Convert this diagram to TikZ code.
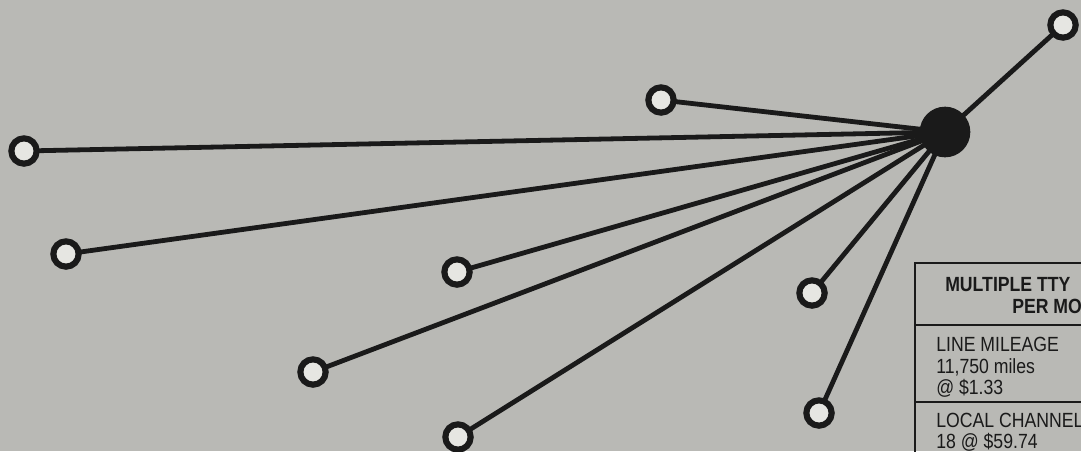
\documentclass[tikz,border=0pt]{standalone}
\usepackage{fontspec}
\setmainfont{Liberation Sans}[FakeStretch=0.86]
\usepackage{xcolor}
\usepackage{tikz}
\usetikzlibrary{backgrounds}
\definecolor{PaperGray}{HTML}{B9B9B5}
\definecolor{DotFill}{HTML}{E6E6E2}
\definecolor{Ink}{HTML}{1A1A1A}

\begin{document}
\begin{tikzpicture}[
    x=0.75pt, y=-0.75pt,
    term/.style={circle, draw=Ink, line width=4.6pt, fill=DotFill,
      minimum size=19pt, inner sep=0pt},
    hubdot/.style={circle, fill=Ink, minimum size=38pt, inner sep=0pt},
    link/.style={draw=Ink, line width=3.6pt},
    cell/.style={anchor=base west, inner sep=0pt, font=\fontsize{15.4}{18}\selectfont, text=Ink}
  ]
    \useasboundingbox (0,0) rectangle (1081,451);
    \clip (0,0) rectangle (1081,451);

    % hub and terminals
    \node[hubdot] (hub) at (945,132) {};
    \node[term] (ne) at (1063,25) {};
    \node[term] (nt) at (661,100) {};
    \node[term] (nw) at (24,151) {};
    \node[term] (wl) at (66,254) {};
    \node[term] (mc) at (457,272) {};
    \node[term] (rc) at (812,293) {};
    \node[term] (sw) at (313,372) {};
    \node[term] (rb) at (819,413) {};
    \node[term] (bc) at (458,437) {};

    \begin{scope}[on background layer]
      \fill[PaperGray] (0,0) rectangle (1081,451);
      \foreach \t in {ne,nt,nw,wl,mc,rc,sw,rb,bc}
        \draw[link] (hub.center) -- (\t.center);
    \end{scope}

    % cost table
    \draw[Ink, line width=1.8pt] (915,263) rectangle (1110,470);
    \draw[Ink, line width=1.8pt] (915,325) -- (1110,325);
    \draw[Ink, line width=1.8pt] (915,402) -- (1110,402);
    \node[cell, font=\fontsize{15.4}{18}\selectfont\bfseries] (hd1) at (945,291) {MULTIPLE TTY};
    \node[cell, font=\fontsize{15.4}{18}\selectfont\bfseries] (hd2) at (1012,313) {PER MO};
    \node[cell] (lm1) at (936,351) {LINE MILEAGE};
    \node[cell] (lm2) at (936,373) {11,750 miles};
    \node[cell] (lm3) at (936,394) {@ \$1.33};
    \node[cell] (lc1) at (936,427) {LOCAL CHANNELS};
    \node[cell] (lc2) at (936,448) {18 @ \$59.74};
  \end{tikzpicture}
\end{document}
